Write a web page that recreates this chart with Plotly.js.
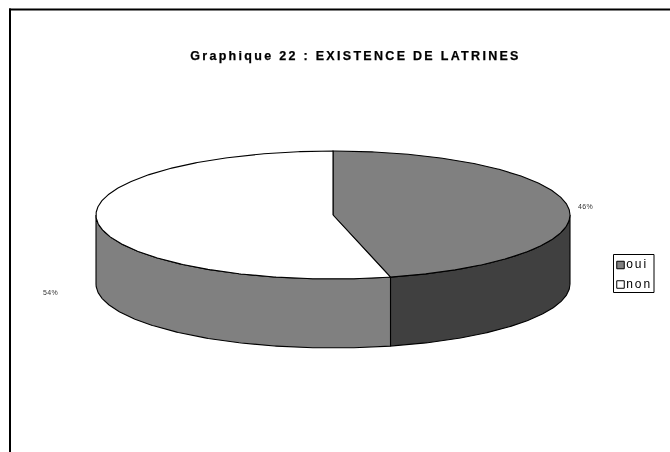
<!DOCTYPE html>
<html>
<head>
<meta charset="utf-8">
<script src="https://cdn.plot.ly/plotly-3.0.1.min.js"></script>
<style>
html,body{margin:0;padding:0;background:#fff}
#chart{width:670px;height:452px;filter:grayscale(1)}
.gtitle{letter-spacing:2.3px;stroke:#000;stroke-width:.25px}
.annotation-text{letter-spacing:0.35px}
.textpoint text{letter-spacing:2px}
</style>
</head>
<body>
<div id="chart"></div>
<script>
const chartTitle = "Graphique 22 : EXISTENCE DE LATRINES";
const categories = ["oui", "non"];
const percents = [46.1, 53.9];
const topColors = ["#808080", "#ffffff"];
const sideColors = ["#404040", "#808080"];
const labelX = [585, 50];
const labelY = [206, 292];

const cx = 333, cy = 215, rx = 237, ry = 64, depth = 69;

function px(deg){ return cx + rx * Math.sin(deg * Math.PI / 180); }
function py(deg){ return cy - ry * Math.cos(deg * Math.PI / 180); }
function sweep(a, b){
  const out = [], n = Math.max(2, Math.ceil(Math.abs(b - a) * 2));
  for (let i = 0; i <= n; i++) out.push(a + (b - a) * i / n);
  return out;
}
const line = {color: "#000", width: 1.1};
function shape(xs, ys, color){
  return {type: "scatter", mode: "lines", x: xs, y: ys, fill: "toself", fillcolor: color,
          line: line, hoverinfo: "skip", showlegend: false};
}

const split = percents[0] / (percents[0] + percents[1]) * 360;
const wedges = [[0, split], [split, 360]];
const traces = [];

// visible rim, front half of the disc only
const sideRanges = [[90, split], [split, 270]];
sideRanges.forEach((r, i) => {
  const t = sweep(r[0], r[1]);
  const back = t.slice().reverse();
  traces.push(shape(
    t.map(px).concat(back.map(px), [px(r[0])]),
    t.map(d => py(d) + depth).concat(back.map(py), [py(r[0]) + depth]),
    sideColors[i]));
});

// top face
wedges.forEach((r, i) => {
  const t = sweep(r[0], r[1]);
  traces.push(shape(
    [cx].concat(t.map(px), [cx]),
    [cy].concat(t.map(py), [cy]),
    topColors[i]));
});

// legend keys and labels
const legendX = 620.5, legendY = [265, 284.5];
traces.push({
  type: "scatter", mode: "markers+text",
  x: categories.map(() => legendX), y: legendY,
  text: categories, textposition: "middle right",
  textfont: {family: "Liberation Sans, Arial, sans-serif", size: 12, color: "#000"},
  marker: {symbol: "square", size: 7.5, color: topColors, line: {color: "#000", width: 1}},
  hoverinfo: "skip", showlegend: false
});

const layout = {
  width: 670, height: 452,
  margin: {l: 0, r: 0, t: 0, b: 0},
  paper_bgcolor: "#fff", plot_bgcolor: "#fff",
  showlegend: false,
  title: {
    text: chartTitle, x: 355.5 / 670, xref: "paper", xanchor: "center",
    y: 1 - 56 / 452, yref: "container", yanchor: "middle",
    font: {family: "Liberation Sans, Arial, sans-serif", size: 12.5, color: "#000", weight: 700}
  },
  xaxis: {range: [0, 670], visible: false, fixedrange: true},
  yaxis: {range: [452, 0], visible: false, fixedrange: true},
  shapes: [
    {type: "line", x0: 10, x1: 10, y0: 8.5, y1: 452, line: {color: "#000", width: 2}},
    {type: "line", x0: 9, x1: 670, y0: 9.5, y1: 9.5, line: {color: "#000", width: 2}},
    {type: "rect", x0: 613.5, x1: 654, y0: 254.5, y1: 292.5, line: {color: "#000", width: 1}, layer: "below"}
  ],
  annotations: percents.map((p, i) => ({
    x: labelX[i], y: labelY[i], text: Math.round(p) + "%", showarrow: false,
    xanchor: "center", yanchor: "middle",
    font: {family: "Liberation Sans, Arial, sans-serif", size: 7, color: "#333"}
  }))
};
Plotly.newPlot("chart", traces, layout, {displayModeBar: false, staticPlot: true});
</script>
</body>
</html>
